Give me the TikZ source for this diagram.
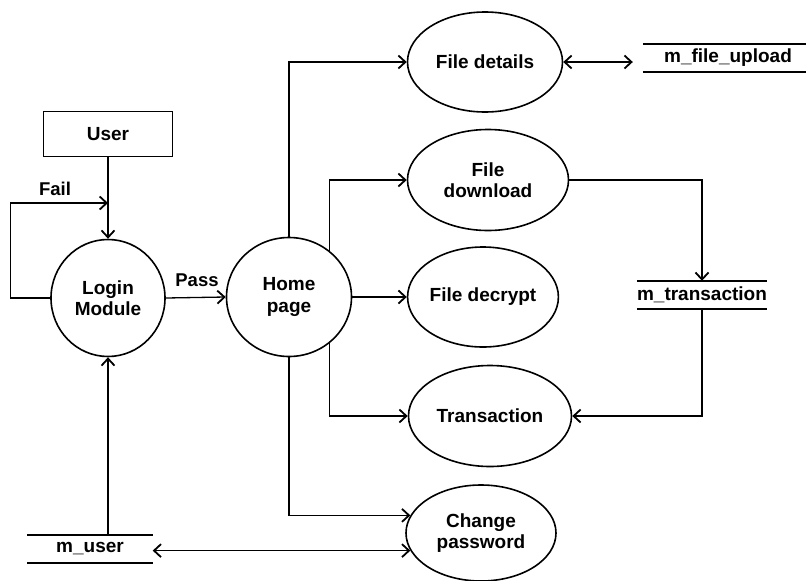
\documentclass[tikz,border=0pt]{standalone}
\usepackage{fontspec}
\setmainfont{Liberation Sans}
\usetikzlibrary{arrows.meta,shapes.geometric}
\begin{document}
\begin{tikzpicture}[x=1pt,y=-1pt,
  every node/.style={font=\fontsize{19}{21.5}\selectfont\bfseries, align=center},
  proc/.style={ellipse, draw, line width=1.6pt, inner sep=0pt},
  store/.style={inner sep=0pt, minimum height=28pt},
  ent/.style={rectangle, draw, line width=1.6pt, minimum width=129pt, minimum height=45pt},
  flow/.style={line width=1.3pt, -{Straight Barb[length=7pt,width=13pt,line width=1.8pt]}},
  biflow/.style={line width=1.3pt, {Straight Barb[length=7pt,width=13pt,line width=1.8pt]}-{Straight Barb[length=7pt,width=13pt,line width=1.8pt]}},
  lbl/.style={font=\fontsize{18.5}{21}\selectfont\bfseries}
]
\useasboundingbox (0,0) rectangle (806,581);

\node[ent] (user) at (108,134) {User};
\node[proc, minimum width=114pt, minimum height=117pt] (login) at (108,298) {Login\\Module};
\node[proc, minimum width=125pt, minimum height=119pt] (home) at (289,297) {Home\\page};
\node[proc, minimum width=155pt, minimum height=100pt] (fdet) at (485,62) {File details};
\node[proc, minimum width=161pt, minimum height=101pt] (fdown) at (488,180) {File\\download};
\node[proc, minimum width=150pt, minimum height=100pt] (fdec) at (483,297) {File decrypt};
\node[proc, minimum width=163pt, minimum height=101pt] (trans) at (490,416) {Transaction};
\node[proc, minimum width=150pt, minimum height=96pt] (chpw) at (481,533) {Change\\password};

\node[store, minimum width=170pt] (mfile) at (728,58) {m\_file\_upload};
\node[store, minimum width=124pt] (mtrans) at (702,295) {m\_transaction};
\node[store, minimum width=125pt] (muser) at (90,549) {m\_user};

\draw[line width=1.5pt] (mfile.north west) -- (mfile.north east) (mfile.south west) -- (mfile.south east);
\draw[line width=2.2pt] (mtrans.north west) -- (mtrans.north east);
\draw[line width=1.5pt] (mtrans.south west) -- (mtrans.south east);
\draw[line width=1.5pt] (muser.north west) -- (muser.north east) (muser.south west) -- (muser.south east);

\coordinate (failin) at (108,203);
\draw[flow] (user.south) -- (login.north);
\draw[flow] (login.west) -- ++(-40,0) |- (failin);
\node[lbl] (fail) at (55,189) {Fail};
\draw[flow] (login.east) -- (home.west);
\node[lbl] (pass) at (197,280) {Pass};

\draw[flow] (home.north) |- (fdet.west);
\draw[flow] (home.49) |- (fdown.west);
\draw[flow] (home.east) -- (fdec.west);
\draw[flow] (home.-49) |- (trans.west);
\draw[flow] (home.south) |- (chpw.166);

\draw[biflow] (fdet.east) -- ([xshift=-10pt]fdet.east -| mfile.west);
\draw[flow] (fdown.east) -| (mtrans.north);
\draw[flow] (mtrans.south) |- (trans.east);
\draw[flow] (login.south |- muser.north) -- (login.south);
\draw[biflow] (chpw.194 -| muser.east) -- (chpw.194);
\end{tikzpicture}
\end{document}
